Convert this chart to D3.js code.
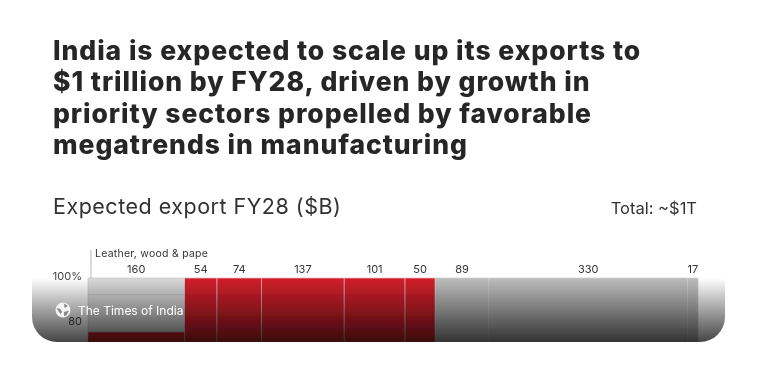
<!DOCTYPE html>
<html>
<head>
<meta charset="utf-8">
<script src="https://cdn.jsdelivr.net/npm/d3@7"></script>
<style>
    html, body { margin: 0; padding: 0; background: #fff; overflow: hidden; }
    svg { display: block; }
    text { font-family: Inter, "Open Sans", sans-serif; }
</style>
</head>
<body>
<div id="chart"></div>
<script>
const titleLines = [
    "India is expected to scale up its exports to",
    "$1 trillion by FY28, driven by growth in",
    "priority sectors propelled by favorable",
    "megatrends in manufacturing"
];
const subtitle = "Expected export FY28 ($B)";
const totalLabel = "Total: ~$1T";
const sectorLabel = "Leather, wood & pape";
const sourceLabel = "The Times of India";

const exportValues = [160, 54, 74, 137, 101, 50, 89, 330, 17];
const segmentGroups = ["grey", "red", "red", "red", "red", "red", "grey", "grey", "grey"];
const yTicks = [100, 80];
const yTickLabels = ["100%", "80"];
// first column is split, the rest of it is cut off by the crop
const firstColumnShares = [[92.5, 100], [76, 92.5], [0, 76]];
const firstColumnGroups = ["light", "light", "red"];

const width = 766;
const height = 365;

const svg = d3.select("#chart").append("svg")
    .attr("width", width)
    .attr("height", height);

const defs = svg.append("defs");

const fade = defs.append("linearGradient")
    .attr("id", "fade")
    .attr("x1", 0).attr("y1", 0).attr("x2", 0).attr("y2", 1);
fade.append("stop").attr("offset", "0%").attr("stop-color", "#000").attr("stop-opacity", 0);
fade.append("stop").attr("offset", "100%").attr("stop-color", "#000").attr("stop-opacity", 0.73);

defs.append("clipPath").attr("id", "crop")
    .append("rect").attr("x", 0).attr("y", 0).attr("width", width).attr("height", 342);

defs.append("filter").attr("id", "soft")
    .append("feGaussianBlur").attr("stdDeviation", 0.45);

const page = svg.append("g").attr("filter", "url(#soft)");

// title
page.append("g").selectAll("text")
    .data(titleLines)
    .join("text")
    .attr("x", 53)
    .attr("y", (d, i) => 60 + i * 31.3)
    .attr("fill", "#272727")
    .style("font-size", "26.5px")
    .style("font-weight", 800)
    .style("letter-spacing", "0.95px")
    .text(d => d);

page.append("text")
    .attr("x", 53).attr("y", 214)
    .attr("fill", "#333")
    .style("font-size", "21.5px")
    .style("letter-spacing", "0.5px")
    .text(subtitle);

page.append("text")
    .attr("x", 697).attr("y", 214)
    .attr("text-anchor", "end")
    .attr("fill", "#333")
    .style("font-size", "16.5px")
    .text(totalLabel);

// chart
const x = d3.scaleLinear()
    .domain([0, d3.sum(exportValues)])
    .range([88, 698]);
const y = d3.scaleLinear()
    .domain([100, 80])
    .range([278, 323]);
const colors = { red: "#d21f2b", grey: "#bdbdbd", light: "#dadada" };

const cumulative = d3.cumsum(exportValues);
const segments = exportValues.map((v, i) => ({
    value: v,
    start: i === 0 ? 0 : cumulative[i - 1],
    end: cumulative[i],
    group: segmentGroups[i]
}));

const bars = page.append("g").attr("clip-path", "url(#crop)");

bars.selectAll(".segment")
    .data(segments.slice(1))
    .join("rect")
    .attr("class", "segment")
    .attr("x", d => x(d.start))
    .attr("width", d => x(d.end) - x(d.start))
    .attr("y", y(100))
    .attr("height", y(0) - y(100))
    .attr("fill", d => colors[d.group])
    .attr("stroke", d => d.group === "red" ? "#f3b9bc" : "#cfcfcf")
    .attr("stroke-width", 0.7);

bars.selectAll(".first")
    .data(firstColumnShares)
    .join("rect")
    .attr("class", "first")
    .attr("x", x(0))
    .attr("width", x(exportValues[0]) - x(0))
    .attr("y", d => y(d[1]))
    .attr("height", d => y(d[0]) - y(d[1]))
    .attr("fill", (d, i) => colors[firstColumnGroups[i]])
    .attr("stroke", "#c4c4c4")
    .attr("stroke-width", 0.6);

page.append("g").selectAll("text")
    .data(segments)
    .join("text")
    .attr("x", d => x((d.start + d.end) / 2))
    .attr("y", 273)
    .attr("text-anchor", "middle")
    .attr("fill", "#333")
    .style("font-size", "11px")
    .text(d => d.value);

page.append("g").selectAll("text")
    .data(yTicks)
    .join("text")
    .attr("x", 82)
    .attr("y", d => y(d) + 2)
    .attr("text-anchor", "end")
    .attr("fill", "#444")
    .style("font-size", "11px")
    .text((d, i) => yTickLabels[i]);

page.append("line")
    .attr("x1", 91).attr("x2", 91)
    .attr("y1", 250).attr("y2", 278)
    .attr("stroke", "#999")
    .attr("stroke-width", 0.7);

page.append("text")
    .attr("x", 95).attr("y", 256.5)
    .attr("fill", "#333")
    .style("font-size", "10.5px")
    .style("letter-spacing", "0.25px")
    .text(sectorLabel);

// dark fade over the bottom of the card
const cardTop = 278, cardBottom = 342, cardLeft = 32, cardRight = 725, cardR = 25;
page.append("path")
    .attr("d", `M${cardLeft},${cardTop}H${cardRight}V${cardBottom - cardR}A${cardR},${cardR} 0 0 1 ${cardRight - cardR},${cardBottom}H${cardLeft + cardR}A${cardR},${cardR} 0 0 1 ${cardLeft},${cardBottom - cardR}Z`)
    .attr("fill", "url(#fade)");

// source badge
const badge = svg.append("g").attr("transform", "translate(63,310)");
badge.append("circle").attr("r", 7.5).attr("fill", "#f4f4f4");
badge.append("path")
    .attr("d", "M-6.5,-2 L-2.5,-1 L-1,2 L-2.5,4 L-4,2 Z M1,-6.5 L5,-4 L1.5,-2 Z M1,2 L6,0.5 L3.5,5.5 L1,6 Z")
    .attr("fill", "#8a8a8a");
svg.append("text")
    .attr("x", 78).attr("y", 314.5)
    .attr("fill", "#fff")
    .style("font-size", "12px")
    .text(sourceLabel);
</script>
</body>
</html>
